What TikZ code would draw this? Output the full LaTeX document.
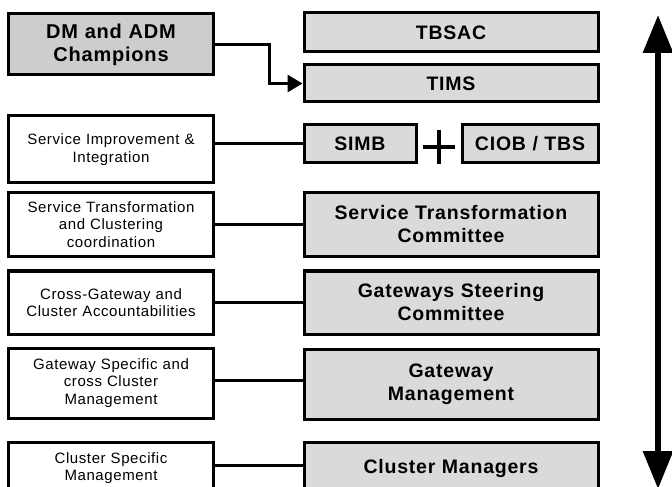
\documentclass[tikz,border=0pt]{standalone}
\usepackage{fontspec}
\setmainfont{Liberation Sans}
\newfontfamily\boxfont[LetterSpace=4]{Liberation Sans}
\usetikzlibrary{arrows.meta,positioning,calc}
\definecolor{boxgray}{RGB}{218,218,218}
\definecolor{champgray}{RGB}{205,205,205}
\tikzstyle{role} = [draw=black, line width=3bp, fill=white, align=center, inner xsep=4bp, inner ysep=2bp, text width=196bp, font=\boxfont\fontsize{15bp}{17.5bp}\selectfont]
\tikzstyle{body} = [role, fill=boxgray, text width=286bp, font=\boxfont\bfseries\fontsize{19.5bp}{23bp}\selectfont]
\tikzstyle{link} = [line width=3bp, color=black]
\tikzstyle{scale arrow} = [line width=6bp, {Triangle[width=29bp,length=38bp]}-{Triangle[width=29bp,length=38bp]}]

\begin{document}
\begin{tikzpicture}[x=1bp, y=-1bp]
\useasboundingbox (0,0) rectangle (672,487);
\clip (0,0) rectangle (672,487);

% Left column: roles
\node[role, fill=champgray, font=\boxfont\bfseries\fontsize{20bp}{23bp}\selectfont, minimum height=61bp] (champ) at (111,44.5) {DM and ADM\\Champions};
\node[role, minimum height=67bp] (improve) at (111,149.5) {Service Improvement \&\\Integration};
\node[role, minimum height=63bp] (coord) at (111,224.5) {Service Transformation\\and Clustering\\coordination};
\node[role, minimum height=63bp] (account) at (111,302.5) {Cross-Gateway and\\Cluster Accountabilities};
\node[role, minimum height=70bp] (gwspec) at (111,383) {Gateway Specific and\\cross Cluster\\Management};
\node[role, minimum height=52bp] (clspec) at (111,468) {Cluster Specific\\Management};

% Right column: bodies
\node[body, minimum height=39bp] (tbsac) at (451,32.5) {TBSAC};
\node[body, minimum height=37bp] (tims) at (451,83.5) {TIMS};
\node[body, text width=104bp, minimum height=38bp] (simb) at (360,144) {SIMB};
\node[body, text width=128bp, minimum height=38bp] (ciob) at (530,144) {CIOB / TBS};
\node[body, minimum height=63bp] (stc) at (451,224.5) {Service Transformation\\Committee};
\node[body, minimum height=63bp] (gsc) at (451,302.5) {Gateways Steering\\Committee};
\node[body, minimum height=70bp] (gwm) at (451,384) {Gateway\\Management};
\node[body, minimum height=52bp] (clm) at (451,468) {Cluster Managers};

% Plus between SIMB and CIOB / TBS
\coordinate (plus) at ($(simb.east)!0.5!(ciob.west)+(0,3)$);
\draw[line width=3.5bp] ([xshift=-16bp]plus) -- ([xshift=16bp]plus);
\draw[line width=3.5bp] ([yshift=-17bp]plus) -- ([yshift=17bp]plus);

% Connectors
\draw[link, -{Triangle[width=17bp,length=15bp]}] (champ.east) -- ++(55,0) |- (tims.west);
\draw[link] (improve.east |- simb.west) -- (simb.west);
\draw[link] (coord.east) -- (stc.west);
\draw[link] (account.east) -- (gsc.west);
\draw[link] (gwspec.east |- 0,380) -- (gwm.west |- 0,380);
\draw[link] (clspec.east |- 0,465) -- (clm.west |- 0,465);

% Scale arrow
\coordinate (scaletop) at (658,15);
\coordinate (scalebot) at (658,489);
\draw[scale arrow] (scaletop) -- (scalebot);
\end{tikzpicture}
\end{document}
